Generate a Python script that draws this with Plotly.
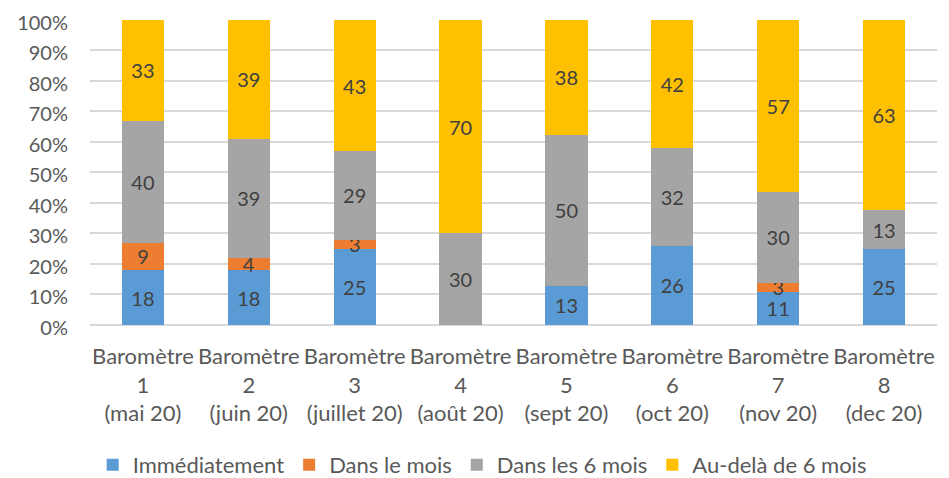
import plotly.graph_objects as go

categories = [
    "Baromètre<br>1<br>(mai 20)",
    "Baromètre<br>2<br>(juin 20)",
    "Baromètre<br>3<br>(juillet 20)",
    "Baromètre<br>4<br>(août 20)",
    "Baromètre<br>5<br>(sept 20)",
    "Baromètre<br>6<br>(oct 20)",
    "Baromètre<br>7<br>(nov 20)",
    "Baromètre<br>8<br>(dec 20)",
]
immediatement = [18, 18, 25, 0, 13, 26, 11, 25]
dans_le_mois = [9, 4, 3, 0, 0, 0, 3, 0]
dans_6_mois = [40, 39, 29, 30, 50, 32, 30, 13]
au_dela_6_mois = [33, 39, 43, 70, 38, 42, 57, 63]

series = [
    ("Immédiatement", immediatement, "#5B9BD5"),
    ("Dans le mois", dans_le_mois, "#ED7D31"),
    ("Dans les 6 mois", dans_6_mois, "#A5A5A5"),
    ("Au-delà de 6 mois", au_dela_6_mois, "#FFC000"),
]

FONT = "Lato, 'Open Sans', sans-serif"
FS_Y = 20
FS_X = 22
FS_LEG = 22
FS_LBL = 20

fig = go.Figure()
for name, vals, color in series:
    fig.add_trace(go.Bar(
        name=name,
        x=categories,
        y=vals,
        marker=dict(color=color, line=dict(width=0)),
        text=[str(v) if v else "" for v in vals],
        textposition="inside",
        insidetextanchor="middle",
        textangle=0,
        constraintext="none",
        textfont=dict(family=FONT, size=FS_LBL, color="#404040"),
        hoverinfo="skip",
    ))

# the page body adds an 8px margin: compensate in size and margins
fig.update_layout(
    template="none",
    barmode="stack",
    barnorm="percent",
    bargap=0.6,
    width=941,
    height=470,
    margin=dict(l=82, r=12, t=11, b=153, autoexpand=False),
    paper_bgcolor="white",
    plot_bgcolor="white",
    font=dict(family=FONT, size=FS_Y, color="#595959"),
    uniformtext=dict(minsize=FS_LBL, mode="show"),
    showlegend=True,
    legend=dict(
        orientation="h",
        x=0.463, xanchor="center",
        y=-0.4575, yanchor="middle",
        bgcolor="rgba(0,0,0,0)",
        font=dict(family=FONT, size=FS_LEG, color="#595959"),
        itemwidth=30,
        traceorder="normal",
        tracegroupgap=0,
    ),
    xaxis=dict(
        automargin=False,
        showgrid=False,
        showline=False,
        zeroline=False,
        ticks="",
        ticklabelstandoff=16,
        tickfont=dict(family=FONT, size=FS_X, color="#595959"),
    ),
    yaxis=dict(
        automargin=False,
        range=[0, 100.3],
        dtick=10,
        ticksuffix="%",
        ticklabeloverflow="allow",
        ticklabelshift=3,
        showgrid=True,
        gridcolor="#D9D9D9",
        gridwidth=1.5,
        zeroline=True,
        zerolinecolor="#D9D9D9",
        zerolinewidth=1.5,
        showline=False,
        ticks="",
        ticklabelstandoff=21,
        tickfont=dict(family=FONT, size=FS_Y, color="#595959"),
    ),
)

fig.write_html("out.html")
